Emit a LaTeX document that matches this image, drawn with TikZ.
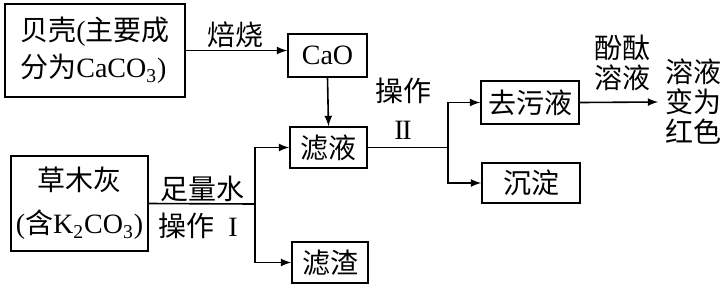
\documentclass[tikz,border=0pt]{standalone}
\usepackage{fontspec}
\setmainfont{Liberation Serif}
\newfontfamily\cjk{Noto Sans CJK SC}
\tikzset{
  box/.style={draw, line width=0.8pt, inner sep=2pt},
  lbl/.style={inner sep=1pt, align=center},
}
\begin{document}
\begin{tikzpicture}[>=latex, line width=0.8pt, x=0.5pt, y=-0.5pt, font=\fontsize{14}{18}\selectfont]
    \useasboundingbox (0,0) rectangle (724,286);
    % boxes
    \node[box, minimum width=90pt, minimum height=46.5pt, align=left, font=\fontsize{14}{18.5}\selectfont] (shell) at (95,50.5) {{\cjk 贝壳}({\cjk 主要成}\\{\cjk 分为}CaCO\textsubscript{3})};
    \node[box, minimum width=39.5pt, minimum height=21.5pt] (cao) at (327.5,55.5) {CaO};
    \node[box, minimum width=38.5pt, minimum height=20.5pt] (filtrate) at (328.5,147.5) {\cjk 滤液};
    \node[box, minimum width=68.5pt, minimum height=47.5pt, align=center, font=\fontsize{14}{21.5}\selectfont] (ash) at (79.5,203.5) {{\cjk 草木灰}\\({\cjk 含}K\textsubscript{2}CO\textsubscript{3})};
    \node[box, minimum width=38pt, minimum height=20.5pt] (residue) at (330,262.5) {\cjk 滤渣};
    \node[box, minimum width=49pt, minimum height=21.5pt] (cleaner) at (530,102.5) {\cjk 去污液};
    \node[box, minimum width=49pt, minimum height=20pt] (precip) at (531,183) {\cjk 沉淀};
    \node[lbl, inner sep=3pt, font=\fontsize{14}{15}\selectfont] (result) at (693,102) {\cjk 溶液\\\cjk 变为\\\cjk 红色};
    % labels
    \node[lbl] (roast) at (235,35) {\cjk 焙烧};
    \node[lbl] (water) at (202,189) {\cjk 足量水};
    \node[lbl] (opone) at (198,226) {{\cjk 操作}\ \ I};
    \node[lbl, font=\fontsize{14}{19}\selectfont] (optwo) at (403,109) {{\cjk 操作}\\I\kern-0.6pt I};
    \node[lbl, font=\fontsize{14}{15}\selectfont] (phenol) at (622,63) {\cjk 酚酞\\\cjk 溶液};
    % connectors
    \coordinate (fork1) at (255,204);
    \coordinate (fork2) at (448,147.5);
    \draw[->] (shell.east) -- (cao.west |- shell.east);
    \draw[->] (cao.south) -- (filtrate.north);
    \draw (ash.east) -- (fork1);
    \draw[->] (fork1) |- (filtrate.west);
    \draw[->] (fork1) |- (residue.west);
    \draw (filtrate.east) -- (fork2);
    \draw[->] (fork2) |- (cleaner.west);
    \draw[->] (fork2) |- (precip.west);
    \draw[->] (cleaner.east) -- (result.west);
\end{tikzpicture}
\end{document}
